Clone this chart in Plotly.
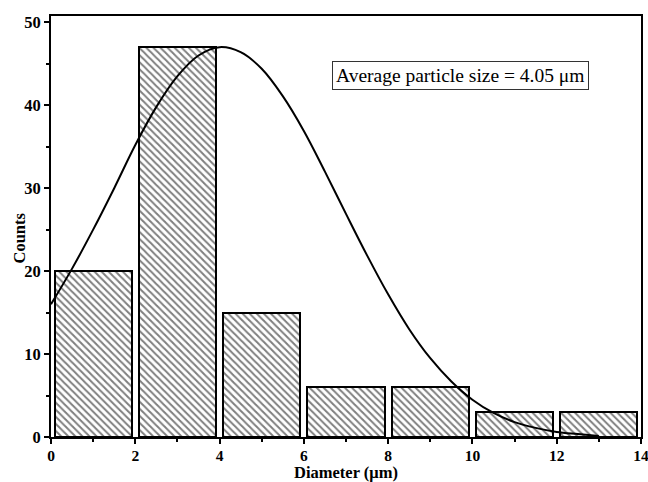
import plotly.graph_objects as go

# Histogram data
bin_centers = [1, 3, 5, 7, 9, 11, 13]
counts = [20, 47, 15, 6, 6, 3, 3]

# Fit curve points
fit_x = [0, 0.5, 1, 1.5, 2, 2.5, 3, 3.5, 4, 4.5, 5, 5.5, 6, 6.5, 7, 7.5, 8,
         8.5, 9, 9.5, 10, 10.5, 11, 11.5, 12, 12.5, 13]
fit_y = [16.0, 20.3, 25.0, 30.0, 35.2, 39.8, 43.5, 46.0, 47.0, 46.4, 44.4, 41.1,
         36.9, 32.0, 26.9, 21.9, 17.2, 13.0, 9.5, 6.7, 4.5, 2.9, 1.8, 1.1, 0.6,
         0.35, 0.12]

x_ticks = [0, 2, 4, 6, 8, 10, 12, 14]
y_ticks = [0, 10, 20, 30, 40, 50]

FONT = "Liberation Serif, Times New Roman, serif"

fig = go.Figure()
fig.add_trace(go.Bar(
    x=bin_centers, y=counts, width=1.83,
    marker=dict(color="white",
                line=dict(color="black", width=2),
                pattern=dict(shape="\\", size=5, solidity=0.4,
                             fgcolor="black", bgcolor="white")),
    showlegend=False,
))
fig.add_trace(go.Scatter(
    x=fit_x, y=fit_y, mode="lines",
    line=dict(color="black", width=2, shape="spline"),
    showlegend=False,
))

fig.add_annotation(
    x=9.72, y=43.55, xref="x", yref="y",
    text="Average particle size = 4.05 μm", showarrow=False,
    font=dict(family=FONT, size=19.5, color="black"),
    bordercolor="#333333", borderwidth=1, borderpad=3, bgcolor="white",
)

# Axis titles
TITLE_FONT = dict(family=FONT, size=16.5, color="black", weight="bold")
fig.add_annotation(
    x=0.5, y=0, xref="paper", yref="paper", xanchor="center", yanchor="top",
    yshift=-25, text="Diameter (μm)", showarrow=False, font=TITLE_FONT,
    borderpad=0,
)
fig.add_annotation(
    x=0, y=0.4727, xref="paper", yref="paper", xanchor="center",
    yanchor="middle", xshift=-31.5, textangle=-90, text="Counts",
    showarrow=False, font=TITLE_FONT, borderpad=0,
)

axis_common = dict(
    showgrid=False, zeroline=False, showline=True, linecolor="black",
    linewidth=2, mirror=True, ticks="outside", ticklen=5, tickwidth=1.5,
    tickcolor="black", automargin=False, ticklabeloverflow="allow",
)

fig.update_xaxes(
    range=[0, 14], tickvals=x_ticks, ticklabelstandoff=-2,
    tickfont=dict(family=FONT, size=15.5, color="black", weight="bold"),
    minor=dict(ticks="outside", ticklen=3, tickwidth=1.5, dtick=1, tick0=0,
               tickcolor="black"),
    **axis_common,
)
fig.update_yaxes(
    range=[0, 50.76], tickvals=y_ticks,
    tickfont=dict(family=FONT, size=16.5, color="black", weight="bold"),
    minor=dict(ticks="outside", ticklen=3, tickwidth=1.5, dtick=5, tick0=0,
               tickcolor="black"),
    **axis_common,
)

fig.update_layout(
    width=648, height=482,
    margin=dict(l=51, r=7, t=16, b=45),
    paper_bgcolor="white", plot_bgcolor="white",
    bargap=0,
)

fig.write_html("out.html")
